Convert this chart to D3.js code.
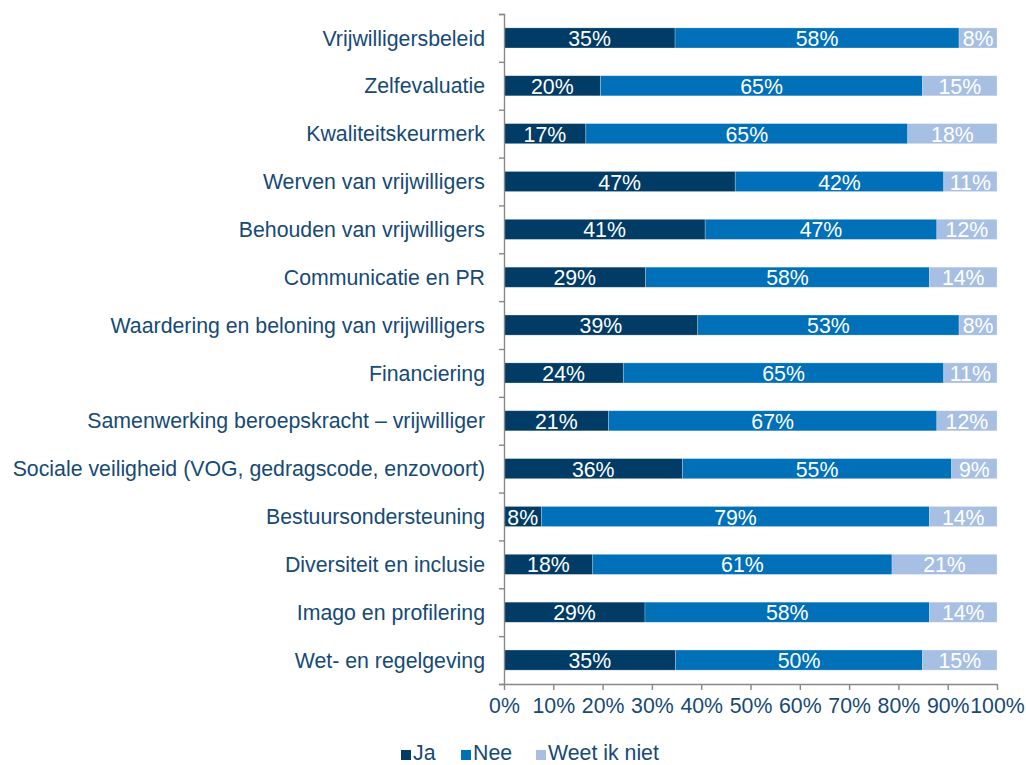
<!DOCTYPE html>
<html>
<head>
<meta charset="utf-8">
<script src="https://cdn.jsdelivr.net/npm/d3@7"></script>
<style>
    body { margin: 0; background: #fff; }
    text { font-family: "Liberation Sans", Arial, sans-serif; }
</style>
</head>
<body>
<div id="chart"></div>
<script>

// categories, top to bottom
const categories = [
    "Vrijwilligersbeleid",
    "Zelfevaluatie",
    "Kwaliteitskeurmerk",
    "Werven van vrijwilligers",
    "Behouden van vrijwilligers",
    "Communicatie en PR",
    "Waardering en beloning van vrijwilligers",
    "Financiering",
    "Samenwerking beroepskracht \u2013 vrijwilliger",
    "Sociale veiligheid (VOG, gedragscode, enzovoort)",
    "Bestuursondersteuning",
    "Diversiteit en inclusie",
    "Imago en profilering",
    "Wet- en regelgeving"
]

// percentages per answer
const ja   = [34.7, 19.6, 16.6, 46.9, 40.8, 28.7, 39.3, 24.2, 21.2, 36.2, 7.6, 18.0, 28.6, 34.8]
const nee  = [57.6, 65.3, 65.3, 42.3, 47.0, 57.6, 53.0, 65.0, 66.6, 54.6, 78.7, 60.7, 57.7, 50.1]
const weet = [7.7, 15.1, 18.1, 10.8, 12.2, 13.7, 7.7, 10.8, 12.2, 9.2, 13.7, 21.3, 13.7, 15.1]

const seriesKeys = ["Ja", "Nee", "Weet ik niet"]
const xTicks = [0, 0.1, 0.2, 0.3, 0.4, 0.5, 0.6, 0.7, 0.8, 0.9, 1]

const colors = { "Ja": "#003C66", "Nee": "#0070B8", "Weet ik niet": "#A7BFE3" }
const TEXT = "#164A75"
const AXIS = "#888888"
const FONT = "21.3px"

// build table for d3.stack
let rows = categories.map((c, i) => ({
    cat: c,
    "Ja": ja[i] / 100,
    "Nee": nee[i] / 100,
    "Weet ik niet": weet[i] / 100
}))

let margin = { top: 14, right: 29, bottom: 81, left: 504 }
let width = 1026 - margin.left - margin.right
let height = 765 - margin.top - margin.bottom

let svg = d3.select("#chart").append("svg")
    .attr("width", 1026)
    .attr("height", 765)
    .append("g")
    .attr("transform", "translate(" + margin.left + "," + margin.top + ")")

let x = d3.scaleLinear()
    .domain([0, 1])
    .range([0, width])

let y = d3.scaleBand()
    .domain(categories)
    .range([0, height])
    .paddingInner(0.58)
    .paddingOuter(0.29)

// boundaries of each category band, for the y ticks
let yLin = d3.scaleLinear()
    .domain([0, categories.length])
    .range([0, height])

let stacked = d3.stack().keys(seriesKeys)(rows)

// bars
let groups = svg.selectAll(".series")
    .data(stacked)
    .enter().append("g")
    .attr("class", "series")
    .attr("fill", d => colors[d.key])

groups.selectAll("rect")
    .data(d => d)
    .enter().append("rect")
    .attr("x", d => x(d[0]))
    .attr("y", d => y(d.data.cat))
    .attr("width", d => x(d[1]) - x(d[0]))
    .attr("height", y.bandwidth())
    .attr("stroke", "#ffffff")
    .attr("stroke-opacity", 0.35)
    .attr("stroke-width", 0.7)

// value labels
let fmt = d3.format(".0%")
groups.selectAll("text")
    .data(d => d)
    .enter().append("text")
    .attr("x", d => (x(d[0]) + x(d[1])) / 2)
    .attr("y", d => y(d.data.cat) + y.bandwidth() / 2 + 1)
    .attr("text-anchor", "middle")
    .attr("dominant-baseline", "central")
    .attr("fill", "#ffffff")
    .attr("font-size", FONT)
    .text(d => fmt(d[1] - d[0]))

// y axis: line + ticks at band edges
let yAxis = svg.append("g")
    .attr("class", "y-axis axis")
    .call(d3.axisLeft(yLin)
        .tickValues(d3.range(0, categories.length + 1))
        .tickFormat("")
        .tickSize(5)
        .tickSizeOuter(5))

// category labels
svg.append("g")
    .attr("class", "y-labels")
    .call(d3.axisLeft(y).tickSize(0).tickPadding(19))
    .call(g => g.select(".domain").remove())
    .selectAll("text")
    .attr("fill", TEXT)
    .attr("font-size", FONT)
    .attr("dy", "0.36em")

// x axis
let xAxis = svg.append("g")
    .attr("class", "x-axis axis")
    .attr("transform", "translate(0," + height + ")")
    .call(d3.axisBottom(x)
        .tickValues(xTicks)
        .tickFormat(fmt)
        .tickSize(6)
        .tickSizeOuter(0)
        .tickPadding(8))

xAxis.selectAll("text")
    .attr("fill", TEXT)
    .attr("font-size", FONT)

svg.selectAll(".axis path, .axis line")
    .attr("stroke", AXIS)
    .attr("stroke-width", 1.4)

// legend
let legendX = [401 - margin.left, 461 - margin.left, 536 - margin.left]
let legend = svg.append("g")
    .attr("transform", "translate(0," + (750 - margin.top) + ")")

let items = legend.selectAll(".legend-item")
    .data(seriesKeys)
    .enter().append("g")
    .attr("class", "legend-item")
    .attr("transform", (d, i) => "translate(" + legendX[i] + ",0)")

items.append("rect")
    .attr("width", 10)
    .attr("height", 10)
    .attr("fill", d => colors[d])

items.append("text")
    .attr("x", 12)
    .attr("y", 10)
    .attr("fill", TEXT)
    .attr("font-size", FONT)
    .text(d => d)

</script>
</body>
</html>
